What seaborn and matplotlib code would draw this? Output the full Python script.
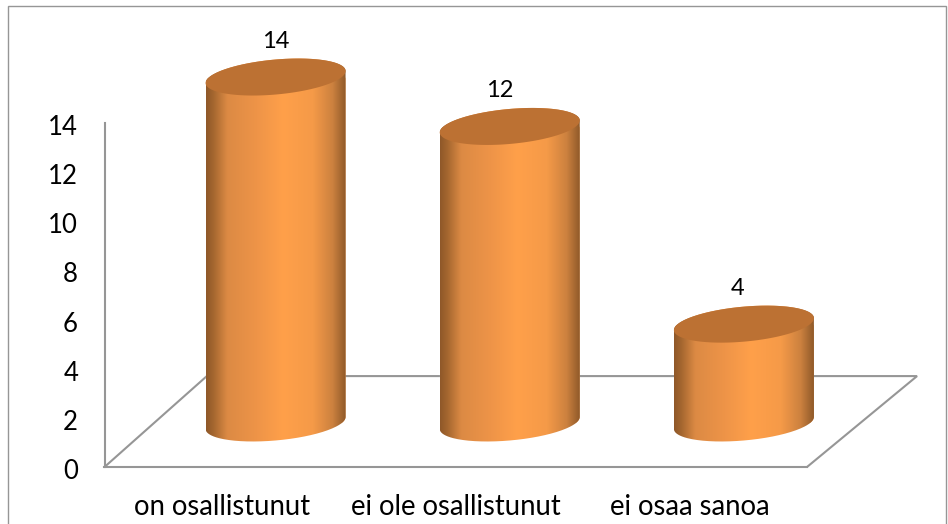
import numpy as np
import pandas as pd
import matplotlib
matplotlib.use("Agg")
import matplotlib.pyplot as plt
from matplotlib.colors import LinearSegmentedColormap
from matplotlib.patches import PathPatch, Rectangle
from matplotlib.path import Path
from matplotlib.transforms import Affine2D
import seaborn as sns

categories = ["on osallistunut", "ei ole osallistunut", "ei osaa sanoa"]
values = [14, 12, 4]
y_ticks = [0, 2, 4, 6, 8, 10, 12, 14]

W, H = 948, 524
sns.set_theme(style="white")
plt.rcParams["font.family"] = ["Lato", "DejaVu Sans"]

GRAY = "#969696"
TOP = "#BC7133"
SIDE = LinearSegmentedColormap.from_list(
    "cyl",
    [(0.0, "#8F5829"), (0.05, "#A4662F"), (0.15, "#DC8A44"), (0.36, "#EE9448"),
     (0.55, "#FFA04A"), (0.76, "#F59A48"), (0.9, "#CC813F"), (1.0, "#8B5728")],
)

fig = plt.figure(figsize=(W / 100, H / 100), dpi=100)
fig.patch.set_facecolor("white")


def axes_px(left, right, top, bottom):
    return fig.add_axes([left / W, 1 - bottom / H, (right - left) / W, (bottom - top) / H])


# frame round the chart
fig.add_artist(Rectangle((8 / W, -0.02), (946 - 8) / W, 1 - 6 / H + 0.02,
                         transform=fig.transFigure, fill=False, ec=GRAY, lw=1.0))

# value axis and floor
ax = axes_px(104.5, 807, 123, 467)
ax.set_xlim(-0.5, 2.5)
ax.set_ylim(0, 14)
ax.set_facecolor("none")
ax.set_yticks(y_ticks)
ax.set_xticks(range(len(categories)), categories)
ax.tick_params(axis="y", length=0, labelsize=18.5, labelcolor="black", pad=19)
ax.tick_params(axis="x", length=0, labelsize=19.8, labelcolor="black", pad=19.5)
for label in ax.get_yticklabels():
    label.set_transform(label.get_transform() + Affine2D().translate(0, -2))
for side in ("top", "right"):
    ax.spines[side].set_visible(False)
for side in ("left", "bottom"):
    ax.spines[side].set_color(GRAY)
    ax.spines[side].set_linewidth(1.5)
ax.plot([-0.5, -0.063, 2.97, 2.5], [0, 3.7, 3.7, 0], color=GRAY, lw=1.5, clip_on=False,
        solid_joinstyle="miter")

# cylinders: same value scale, shifted in depth; the axes reach past 0 and 14 so the caps fit
bx = axes_px(158.5, 861, 27.6, 472.4)
df = pd.DataFrame({"category": categories, "value": values})
sns.barplot(data=df, x="category", y="value", ax=bx, width=0.598, color="#EE9448",
            saturation=1, errorbar=None)
bx.set_axis_off()

SHEAR = 6.0 / 24.7   # tilt of the end caps, in value units
MINOR = 17.5 / 24.7  # half height of the end caps, in value units
LABEL_DX = [0, -10, -6]
LABEL_DY = 36

t = np.linspace(0, 2 * np.pi, 181)
for bar, val, dx in zip(bx.patches, values, LABEL_DX):
    x0, w = bar.get_x(), bar.get_width()
    cx, a = x0 + w / 2, w / 2
    low = np.linspace(np.pi, 2 * np.pi, 91)
    up = np.linspace(0, np.pi, 91)
    body_x = np.r_[cx + a * np.cos(low), cx + a * np.cos(up)]
    body_y = np.r_[SHEAR * np.cos(low) + MINOR * np.sin(low),
                   val + SHEAR * np.cos(up) + MINOR * np.sin(up)]
    outline = PathPatch(Path(np.c_[body_x, body_y]), transform=bx.transData,
                        fc="none", ec="none")
    bx.add_patch(outline)
    bar.set_clip_path(outline)
    img = bx.imshow(np.linspace(0, 1, 256)[None, :], cmap=SIDE, aspect="auto",
                    extent=(x0, x0 + w, -2, val + 2), zorder=3, interpolation="bilinear")
    img.set_clip_path(outline)
    cap_x = cx + a * np.cos(t)
    cap_y = val + SHEAR * np.cos(t) + MINOR * np.sin(t)
    bx.fill(cap_x, cap_y, color=TOP, lw=0, zorder=4)
    bx.annotate(str(val), (cx, val), xytext=(dx, LABEL_DY), textcoords="offset pixels",
                ha="center", va="center", fontsize=17, color="black", annotation_clip=False)

bx.set_xlim(-0.5, 2.5)
bx.set_ylim(-2, 16)

fig.savefig("out.png", dpi=100)
